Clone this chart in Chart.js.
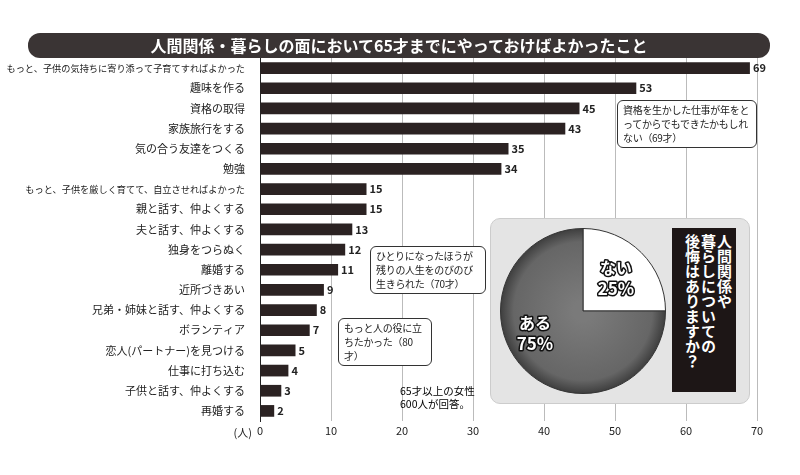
<!DOCTYPE html>
<html><head><meta charset="utf-8">
<script src="https://cdn.jsdelivr.net/npm/chart.js@4"></script>
<style>
body{margin:0;width:800px;height:475px;background:#fff;position:relative;overflow:hidden;font-family:"Noto Sans CJK JP",sans-serif;}
#c{position:absolute;left:0;top:0}
.title{position:absolute;left:28px;top:33px;width:742px;height:25px;background:#3a3434;border-radius:12px;color:#fff;font-weight:bold;font-size:16px;line-height:25px;text-align:center;}
.note{position:absolute;background:#fff;border:1px solid #333;border-radius:6px;font-size:10px;line-height:14px;padding:2px 5px;color:#222;letter-spacing:-0.3px}
#inset{position:absolute;left:490px;top:218px;width:258px;height:184px;background:#e4e4e4;border-radius:10px;border:1px solid #ccc;}
#pie{position:absolute;left:498px;top:226px}
#vt{position:absolute;left:672px;top:228px;width:64px;height:164px;background:#1d1616;color:#fff;font-weight:bold;font-size:15px;line-height:16px;writing-mode:vertical-rl;padding:6px 4px;box-sizing:border-box;}
</style></head><body>
<canvas id="c" width="800" height="475"></canvas>
<div class="title">人間関係・暮らしの面において65才までにやっておけばよかったこと</div>
<div class="note" style="left:617px;top:100px;width:128px">資格を生かした仕事が年をとってからでもできたかもしれない（69才）</div>
<div class="note" style="left:370px;top:246px;width:104px">ひとりになったほうが残りの人生をのびのび生きられた（70才）</div>
<div class="note" style="left:338px;top:318px;width:82px">もっと人の役に立ちたかった（80才）</div>
<div style="position:absolute;left:400px;top:384px;font-size:10.5px;line-height:13px">65才以上の女性<br>600人が回答。</div>
<div id="inset"></div>
<canvas id="pie" width="170" height="170"></canvas>
<div id="vt">人間関係や<br>暮らしについての<br>後悔はありますか？</div>
<script>
const categories=["もっと、子供の気持ちに寄り添って子育てすればよかった","趣味を作る","資格の取得","家族旅行をする","気の合う友達をつくる","勉強","もっと、子供を厳しく育てて、自立させればよかった","親と話す、仲よくする","夫と話す、仲よくする","独身をつらぬく","離婚する","近所づきあい","兄弟・姉妹と話す、仲よくする","ボランティア","恋人(パートナー)を見つける","仕事に打ち込む","子供と話す、仲よくする","再婚する"];
const values=[69,53,45,43,35,34,15,15,13,12,11,9,8,7,5,4,3,2];
const xTicks=[0,10,20,30,40,50,60,70];
const pieLabels=["ない","ある"];
const pieValues=[25,75];
const F='"Noto Sans CJK JP",sans-serif';
const valPlugin={id:'v',afterDatasetsDraw(ch){const ctx=ch.ctx;const m=ch.getDatasetMeta(0);ctx.save();ctx.font='bold 11px '+F;ctx.fillStyle='#222';ctx.textBaseline='middle';
m.data.forEach((b,i)=>ctx.fillText(values[i],b.x+3,b.y));
ctx.font='11px '+F;ctx.textAlign='right';ctx.fillText('(人)',252,ch.scales.x.bottom-11);ctx.restore();}};
new Chart(document.getElementById('c'),{type:'bar',data:{labels:categories,datasets:[{data:values,backgroundColor:'#2b2222',barPercentage:0.58,categoryPercentage:1}]},
options:{indexAxis:'y',responsive:false,animation:false,layout:{padding:{top:58,right:43,bottom:31,left:0}},plugins:{legend:{display:false},tooltip:{enabled:false}},
scales:{x:{min:0,max:70,afterBuildTicks(s){s.ticks=xTicks.map(v=>({value:v}))},ticks:{color:'#222',font:{size:11,family:F}},grid:{color:'#bbb',drawTicks:false},border:{display:false},afterFit(s){s.height=23}},
y:{afterFit(s){s.width=260},ticks:{color:'#222',font:c=>({size:(categories[c.index]||'').length>20?9.2:11,family:F}),padding:7},grid:{display:false},border:{color:'#222'}}}},plugins:[valPlugin]});
const pctx=document.getElementById('pie').getContext('2d');
const g=pctx.createRadialGradient(85,85,10,85,85,84);g.addColorStop(0,'#7a7a7a');g.addColorStop(0.8,'#666');g.addColorStop(1,'#3a3a3a');
const pieText={id:'pt',afterDatasetsDraw(ch){const c=ch.ctx;c.save();c.textAlign='center';c.textBaseline='middle';c.lineJoin='round';
const t=(s,x,y,sz)=>{c.font='bold '+sz+'px '+F;c.lineWidth=3;c.strokeStyle='#111';c.strokeText(s,x,y);c.fillStyle='#fff';c.fillText(s,x,y);};
t('ない',118,42,16);t('25%',118,63,17);t('ある',37,97,16);t('75%',37,118,17);c.restore();}};
new Chart(pctx,{type:'pie',data:{labels:pieLabels,datasets:[{data:pieValues,backgroundColor:['#fff',g],borderColor:'#333',borderWidth:1}]},
options:{responsive:false,animation:false,layout:{padding:2},plugins:{legend:{display:false},tooltip:{enabled:false}}},plugins:[pieText]});
</script></body></html>
